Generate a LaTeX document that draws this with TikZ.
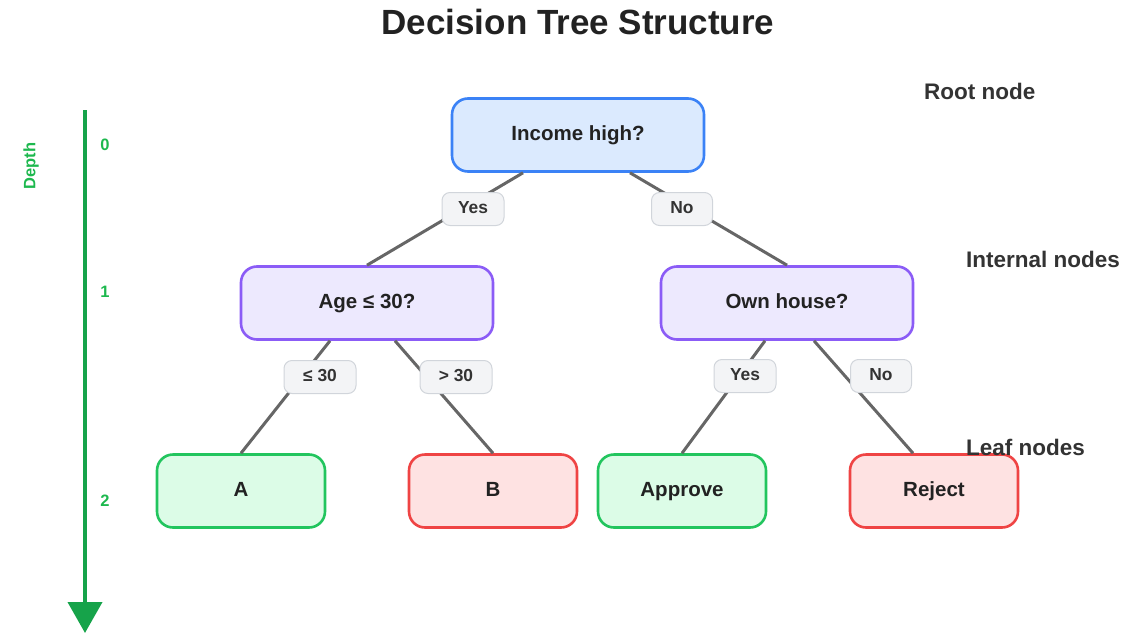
\documentclass[tikz,border=0pt]{standalone}
\usepackage{fontspec}
\setmainfont{Liberation Sans}
\usetikzlibrary{arrows.meta}
\definecolor{rootline}{HTML}{3B82F6}
\definecolor{rootfill}{HTML}{DBEAFE}
\definecolor{intline}{HTML}{8B5CF6}
\definecolor{intfill}{HTML}{EDE9FE}
\definecolor{goodline}{HTML}{22C55E}
\definecolor{goodfill}{HTML}{DCFCE7}
\definecolor{badline}{HTML}{EF4444}
\definecolor{badfill}{HTML}{FEE2E2}
\definecolor{tagfill}{HTML}{F3F4F6}
\definecolor{tagline}{HTML}{D1D5DB}
\definecolor{edgegray}{HTML}{666666}
\definecolor{axisgreen}{HTML}{16A34A}
\definecolor{depthtext}{HTML}{1DB84E}
\definecolor{ink}{HTML}{222222}
\definecolor{note}{HTML}{333333}
\begin{document}
\begin{tikzpicture}[x=1pt,y=-1pt,
  box/.style={rounded corners=16pt,line width=2.6pt,minimum width=252pt,minimum height=73pt,
    inner sep=0pt,text height=15pt,text depth=4pt,text=ink,font=\fontsize{20.5}{24}\selectfont\bfseries},
  rootbox/.style={box,draw=rootline,fill=rootfill},
  intbox/.style={box,draw=intline,fill=intfill},
  leafbox/.style={box,minimum width=168pt},
  goodbox/.style={leafbox,draw=goodline,fill=goodfill},
  badbox/.style={leafbox,draw=badline,fill=badfill},
  tag/.style={rounded corners=8pt,draw=tagline,line width=1pt,fill=tagfill,minimum height=33pt,
    inner sep=0pt,text height=12.5pt,text depth=3.5pt,text=note,font=\fontsize{17.4}{20}\selectfont\bfseries},
  edge/.style={draw=edgegray,line width=3pt},
  side/.style={anchor=west,text=note,inner sep=0pt,font=\fontsize{22.5}{26}\selectfont\bfseries},
  depth/.style={text=depthtext,inner sep=0pt,font=\fontsize{16.5}{20}\selectfont\bfseries}]
\useasboundingbox (0,0) rectangle (1142,634);

% title
\node[text=ink,font=\fontsize{35}{40}\selectfont\bfseries] (title) at (578,22) {Decision Tree Structure};

% depth axis
\coordinate (axtop) at (85,110);
\coordinate (axbot) at (85,633);
\draw[axisgreen,line width=4pt,-{Triangle[width=34pt,length=31pt]}] (axtop) -- (axbot);
\node[depth,rotate=90] (depthlbl) at (31,166) {Depth};
\node[depth] (d0) at (105,145) {0};
\node[depth] (d1) at (105,292) {1};
\node[depth] (d2) at (105,501) {2};

% tree nodes
\node[rootbox] (root) at (578,135) {Income high?};
\node[intbox] (age) at (367,303) {Age ≤ 30?};
\node[intbox] (house) at (787,303) {Own house?};
\node[goodbox] (a) at (241,491) {A};
\node[badbox] (b) at (493,491) {B};
\node[goodbox] (approve) at (682,491) {Approve};
\node[badbox] (reject) at (934,491) {Reject};

% branches
\draw[edge] ([xshift=-55pt]root.south) -- (age.north);
\draw[edge] ([xshift=52pt]root.south) -- (house.north);
\draw[edge] ([xshift=-37pt]age.south) -- (a.north);
\draw[edge] ([xshift=28pt]age.south) -- (b.north);
\draw[edge] ([xshift=-22pt]house.south) -- (approve.north);
\draw[edge] ([xshift=27pt]house.south) -- ([xshift=-21pt]reject.north);

% branch labels
\node[tag,minimum width=62pt] (yes1) at (473,209) {Yes};
\node[tag,minimum width=61pt] (no1) at (682,209) {No};
\node[tag,minimum width=72pt] (le30) at (320,377) {≤ 30};
\node[tag,minimum width=72pt] (gt30) at (456,377) {> 30};
\node[tag,minimum width=62pt] (yes2) at (745,376) {Yes};
\node[tag,minimum width=61pt] (no2) at (881,376) {No};

% level annotations
\node[side] (rootnote) at (924,91) {Root node};
\node[side] (intnote) at (966,259) {Internal nodes};
\node[side] (leafnote) at (966,447) {Leaf nodes};
\end{tikzpicture}
\end{document}
